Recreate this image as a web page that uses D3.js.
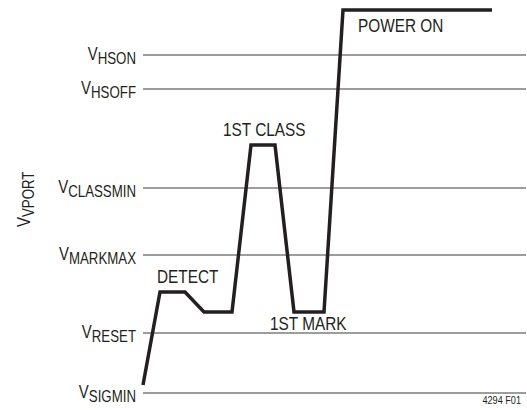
<!DOCTYPE html>
<html>
<head>
<meta charset="utf-8">
<script src="https://cdn.jsdelivr.net/npm/d3@7"></script>
<style>
  body { margin: 0; background: #fff; }
  text { font-family: "Liberation Sans", Arial, sans-serif; fill: #231f20; }
</style>
</head>
<body>
<svg id="chart"></svg>
<script>
var w = 527, h = 410;
var squeeze = 0.83; // fake a condensed face

// threshold levels (arbitrary units, bottom = VSIGMIN)
var levelNames = ["SIGMIN", "RESET", "MARKMAX", "CLASSMIN", "HSOFF", "HSON"];
var levelValues = [0, 60, 138, 205, 304, 338];

// waveform: time (arbitrary units) and voltage
var waveT = [0, 17, 42, 61, 89, 108, 132, 151, 181, 200, 349];
var waveV = [8, 101, 101, 81, 81, 248, 248, 81, 81, 383, 383];

// phase labels: [text, time, voltage]
var phaseText = ["DETECT", "1ST CLASS", "1ST MARK", "POWER ON"];
var phaseT = [14, 80, 127, 215];
var phaseV = [110, 257, 63, 361];

var x = d3.scaleLinear().domain([0, 383]).range([143, 526]);
var y = d3.scaleLinear().domain([0, 383]).range([393, 10]);

var svg = d3.select("#chart").attr("width", w).attr("height", h);

// horizontal threshold lines
svg.append("g")
  .selectAll("line")
  .data(levelValues)
  .join("line")
  .attr("x1", x(0))
  .attr("x2", x(383))
  .attr("y1", function (d) { return y(d); })
  .attr("y2", function (d) { return y(d); })
  .attr("stroke", "#7d7d7d")
  .attr("stroke-width", 1.4);

// threshold labels, V with subscript
var lab = svg.append("g")
  .selectAll("g")
  .data(levelNames)
  .join("g")
  .attr("transform", function (d, i) {
    return "translate(136," + (y(levelValues[i]) + 5) + ") scale(" + squeeze + ",1)";
  })
  .append("text")
  .attr("text-anchor", "end");
lab.append("tspan").attr("font-size", 18).text("V");
lab.append("tspan").attr("font-size", 16).attr("dy", 4).text(function (d) { return d; });

// y axis title
var yt = svg.append("text")
  .attr("transform", "translate(30,227) rotate(-90) scale(" + squeeze + ",1)")
  .attr("text-anchor", "start");
yt.append("tspan").attr("font-size", 18).text("V");
yt.append("tspan").attr("font-size", 16).attr("dy", 4).text("VPORT");

// the waveform
var line = d3.line()
  .x(function (d) { return x(d); })
  .y(function (d, i) { return y(waveV[i]); });

svg.append("path")
  .attr("d", line(waveT))
  .attr("fill", "none")
  .attr("stroke", "#231f20")
  .attr("stroke-width", 3.5)
  .attr("stroke-linejoin", "miter");

svg.append("g")
  .selectAll("text")
  .data(phaseText)
  .join("text")
  .attr("transform", function (d, i) {
    return "translate(" + x(phaseT[i]) + "," + y(phaseV[i]) + ") scale(" + squeeze + ",1)";
  })
  .attr("font-size", 18.5)
  .text(function (d) { return d; });

svg.append("text")
  .attr("transform", "translate(521,404) scale(" + squeeze + ",1)")
  .attr("text-anchor", "end")
  .attr("font-size", 11)
  .text("4294 F01");
</script>
</body>
</html>
